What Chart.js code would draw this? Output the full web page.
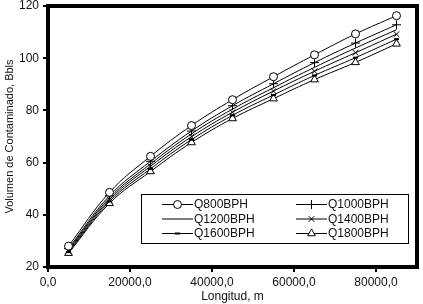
<!DOCTYPE html>
<html>
<head>
<meta charset="utf-8">
<script src="https://cdn.jsdelivr.net/npm/chart.js@4.4.1/dist/chart.umd.min.js"></script>
<style>
  html, body { margin: 0; padding: 0; background: #fff; }
  #wrap { width: 423px; height: 304px; }
</style>
</head>
<body>
<div id="wrap"><canvas id="grafico" width="423" height="304"></canvas></div>
<script>
// Longitud (m)
const longitudes = [5000, 15000, 25000, 35000, 45000, 55000, 65000, 75000, 85000];

// Volumen de contaminado (Bbls) por caudal
const q800  = [28.0, 48.6, 62.4, 74.2, 84.1, 92.9, 101.3, 109.3, 116.3];
const q1000 = [27.1, 47.3, 60.5, 72.1, 81.8, 90.2, 98.3, 105.8, 112.8];
const q1200 = [26.6, 46.5, 59.5, 71.0, 80.5, 88.7, 96.5, 103.9, 110.9];
const q1400 = [26.2, 45.8, 58.6, 69.9, 79.3, 87.4, 95.0, 102.1, 109.2];
const q1600 = [25.7, 45.1, 57.6, 68.8, 78.1, 85.9, 93.4, 100.2, 107.3];
const q1800 = [25.3, 44.4, 56.6, 67.7, 76.9, 84.5, 91.8, 98.4, 105.5];

const etiquetas = ['Q800BPH', 'Q1000BPH', 'Q1200BPH', 'Q1400BPH', 'Q1600BPH', 'Q1800BPH'];
const ticksX = [0, 20000, 40000, 60000, 80000];

// Estilo de cada serie (marcador)
const estilos = [
  { pointStyle: 'circle', radius: 4, bg: '#fff' },
  { pointStyle: 'cross', radius: 4.5, bg: '#000' },
  { pointStyle: false, radius: 0, bg: '#000' },
  { pointStyle: 'crossRot', radius: 4, bg: '#000' },
  { pointStyle: 'line', radius: 2.5, bg: '#000', bw: 2 },
  { pointStyle: 'triangle', radius: 4.5, bg: '#fff' }
];

function serie(valeurs) {
  return valeurs.map((v, i) => ({ x: longitudes[i], y: v }));
}

const series = [q800, q1000, q1200, q1400, q1600, q1800];

const datasets = series.map((s, i) => ({
  label: etiquetas[i],
  data: serie(s),
  borderColor: '#000',
  borderWidth: 1,
  backgroundColor: estilos[i].bg,
  pointStyle: estilos[i].pointStyle,
  pointRadius: estilos[i].radius,
  pointBorderWidth: estilos[i].bw || 1,
  pointBorderColor: '#000',
  pointBackgroundColor: estilos[i].bg,
  tension: 0.4,
  fill: false
}));

// Cadre épais autour de la zone du graphique
const cadre = {
  id: 'cadre',
  afterDatasetsDraw(chart) {
    const { ctx, chartArea: a } = chart;
    ctx.save();
    ctx.strokeStyle = '#000';
    ctx.lineWidth = 4;
    ctx.strokeRect(a.left, a.top, a.right - a.left, a.bottom - a.top);
    ctx.restore();
  }
};

// Légende dessinée dans la zone du graphique
const legende = {
  id: 'legende',
  afterDraw(chart) {
    const ctx = chart.ctx;
    const bx = 141, by = 194, bw = 267, bh = 49;
    ctx.save();
    ctx.fillStyle = '#fff';
    ctx.fillRect(bx, by, bw, bh);
    ctx.strokeStyle = '#000';
    ctx.lineWidth = 1;
    ctx.strokeRect(bx + 0.5, by + 0.5, bw, bh);
    ctx.font = '12px "Liberation Sans", Arial, sans-serif';
    ctx.textBaseline = 'middle';
    chart.data.datasets.forEach((ds, i) => {
      const col = i % 2, fila = Math.floor(i / 2);
      const x0 = col === 0 ? 162 : 296;
      const y = 204 + fila * 14.5;
      ctx.strokeStyle = '#000';
      ctx.lineWidth = 1;
      ctx.beginPath();
      ctx.moveTo(x0, y + 0.5);
      ctx.lineTo(x0 + 31, y + 0.5);
      ctx.stroke();
      if (ds.pointStyle && Chart.helpers && Chart.helpers.drawPoint) {
        ctx.fillStyle = ds.pointBackgroundColor;
        ctx.strokeStyle = '#000';
        ctx.lineWidth = ds.pointBorderWidth;
        Chart.helpers.drawPoint(ctx, {
          pointStyle: ds.pointStyle,
          radius: ds.pointRadius,
          borderWidth: ds.pointBorderWidth,
          rotation: 0
        }, x0 + 15.5, y + 0.5);
      }
      ctx.fillStyle = '#111';
      ctx.fillText(ds.label, x0 + 32, y + 1);
    });
    ctx.restore();
  }
};

const ctx = document.getElementById('grafico').getContext('2d');
new Chart(ctx, {
  type: 'line',
  data: { datasets: datasets },
  options: {
    responsive: false,
    animation: false,
    events: [],
    layout: { padding: { top: 5, right: 4, left: 0, bottom: 0 } },
    plugins: {
      legend: { display: false },
      tooltip: { enabled: false }
    },
    scales: {
      x: {
        type: 'linear',
        min: 0,
        max: 90000,
        afterBuildTicks: (scale) => {
          scale.ticks = ticksX.map(v => ({ value: v }));
        },
        afterFit: (scale) => {
          scale.height = 37;
          scale.paddingLeft = 0;
          scale.paddingRight = 0;
        },
        border: { display: false },
        grid: { drawOnChartArea: false, drawTicks: true, tickLength: 5, color: '#000', lineWidth: 2 },
        ticks: {
          color: '#111',
          padding: 3,
          maxRotation: 0,
          font: { family: '"Liberation Sans", Arial, sans-serif', size: 12 },
          callback: (v) => v.toFixed(0) + ',0'
        },
        title: {
          display: true,
          text: 'Longitud, m',
          color: '#111',
          padding: { top: 0, bottom: 0 },
          font: { family: '"Liberation Sans", Arial, sans-serif', size: 12 }
        }
      },
      y: {
        min: 20,
        max: 120,
        afterFit: (scale) => {
          scale.width = 48;
          scale.paddingTop = 0;
          scale.paddingBottom = 0;
        },
        border: { display: false },
        grid: { drawOnChartArea: false, drawTicks: true, tickLength: 5, color: '#000', lineWidth: 2 },
        ticks: {
          stepSize: 20,
          color: '#111',
          padding: 4,
          font: { family: '"Liberation Sans", Arial, sans-serif', size: 12 }
        },
        title: {
          display: true,
          text: 'Volumen de Contaminado, Bbls',
          color: '#111',
          padding: { top: 3, bottom: 0 },
          font: { family: '"Liberation Sans", Arial, sans-serif', size: 11 }
        }
      }
    }
  },
  plugins: [cadre, legende]
});
</script>
</body>
</html>
